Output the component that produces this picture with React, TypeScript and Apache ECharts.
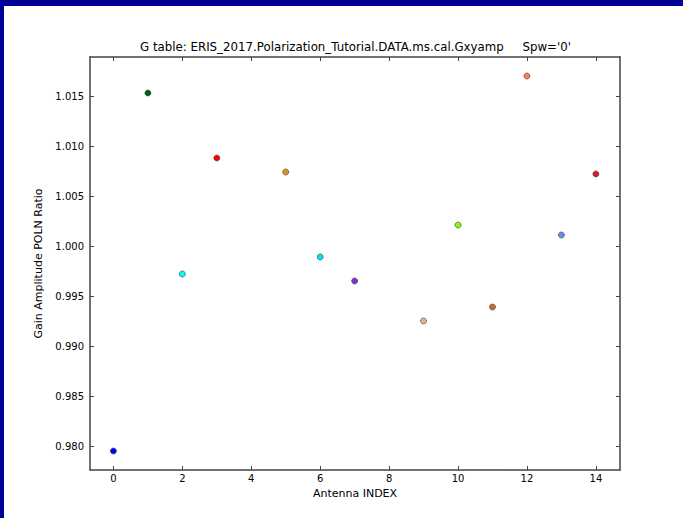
import React, { useEffect, useRef } from "react";
import * as echarts from "echarts";

const antennas = [0, 1, 2, 3, 5, 6, 7, 9, 10, 11, 12, 13, 14];
const ratios = [0.9795, 1.0153, 0.9972, 1.0088, 1.0074, 0.9989, 0.9965, 0.9925, 1.0021, 0.9939, 1.0170, 1.0011, 1.0072];
const colors = ["#0000ff", "#006400", "#00ffff", "#ff0000", "#e0901c", "#00e5ee", "#8a2be2", "#deb887", "#7fff00", "#d2691e", "#ff7f50", "#6495ed", "#dc143c"];
const xTicks = [0, 2, 4, 6, 8, 10, 12, 14];
const yTicks = [0.98, 0.985, 0.99, 0.995, 1.0, 1.005, 1.01, 1.015];

const titleMain = "G table: ERIS_2017.Polarization_Tutorial.DATA.ms.cal.Gxyamp";
const titleSpw = "Spw='0'";
const xName = "Antenna INDEX";
const yName = "Gain Amplitude POLN Ratio";

const FONT = "DejaVu Sans";
const AX = "#444444";

export default function App() {
  const ref = useRef<HTMLDivElement>(null);
  useEffect(() => {
    const chart = echarts.init(ref.current!, null, { renderer: "svg" });
    const xMin = -0.68, xMax = 14.7, yMin = 0.9776, yMax = 1.0189;
    const baseX = {
      type: "value",
      min: xMin,
      max: xMax,
      splitLine: { show: false },
      axisLine: { show: true, onZero: false, lineStyle: { color: AX, width: 1.5 } },
      axisTick: { show: true, inside: true, length: 4, customValues: xTicks, lineStyle: { color: AX, width: 1 } },
    };
    const baseY = {
      type: "value",
      min: yMin,
      max: yMax,
      splitLine: { show: false },
      axisLine: { show: true, onZero: false, lineStyle: { color: AX, width: 1.5 } },
      axisTick: { show: true, inside: true, length: 4, customValues: yTicks, lineStyle: { color: AX, width: 1 } },
    };
    chart.setOption({
      animation: false,
      backgroundColor: "#ffffff",
      grid: { left: 90, top: 57, width: 530, height: 413, containLabel: false, outerBoundsMode: "none" },
      xAxis: [
        {
          ...baseX,
          position: "bottom",
          name: xName,
          nameLocation: "middle",
          nameGap: 13,
          nameTextStyle: { fontFamily: FONT, fontSize: 11, color: "#000", verticalAlign: "top" },
          axisLabel: { customValues: xTicks, fontFamily: FONT, fontSize: 10, color: "#000", margin: 3, formatter: (v: number) => String(v) },
        },
        { ...baseX, position: "top", axisLabel: { show: false } },
      ],
      yAxis: [
        {
          ...baseY,
          position: "left",
          name: yName,
          nameLocation: "middle",
          nameGap: 37,
          nameTextStyle: { fontFamily: FONT, fontSize: 11, color: "#000" },
          axisLabel: { customValues: yTicks, fontFamily: FONT, fontSize: 10, color: "#000", margin: 6, formatter: (v: number) => v.toFixed(3) },
        },
        { ...baseY, position: "right", axisLabel: { show: false } },
      ],
      graphic: [
        { type: "rect", shape: { x: 0, y: 0, width: 683, height: 6 }, style: { fill: "#000099" }, silent: true },
        { type: "rect", shape: { x: 0, y: 0, width: 4, height: 518 }, style: { fill: "#000099" }, silent: true },
        { type: "text", x: 140, y: 47, style: { text: titleMain, fontFamily: FONT, fontSize: 11.8, fill: "#000", verticalAlign: "middle", align: "left" } },
        { type: "text", x: 571, y: 47, style: { text: titleSpw, fontFamily: FONT, fontSize: 11.8, fill: "#000", verticalAlign: "middle", align: "right" } },
      ],
      series: [
        {
          type: "scatter",
          xAxisIndex: 0,
          yAxisIndex: 0,
          symbol: "circle",
          symbolSize: 6,
          itemStyle: { opacity: 1 },
          data: antennas.map((a, i) => ({
            value: [a, ratios[i]],
            itemStyle: { color: colors[i], borderColor: "#333", borderWidth: 0.6, opacity: 1 },
          })),
        },
      ],
    });
    return () => chart.dispose();
  }, []);
  return (
    <div style={{ position: "fixed", left: 0, top: 0, width: 683, height: 518, background: "#fff" }}>
      <div ref={ref} style={{ width: 683, height: 518 }} />
    </div>
  );
}
